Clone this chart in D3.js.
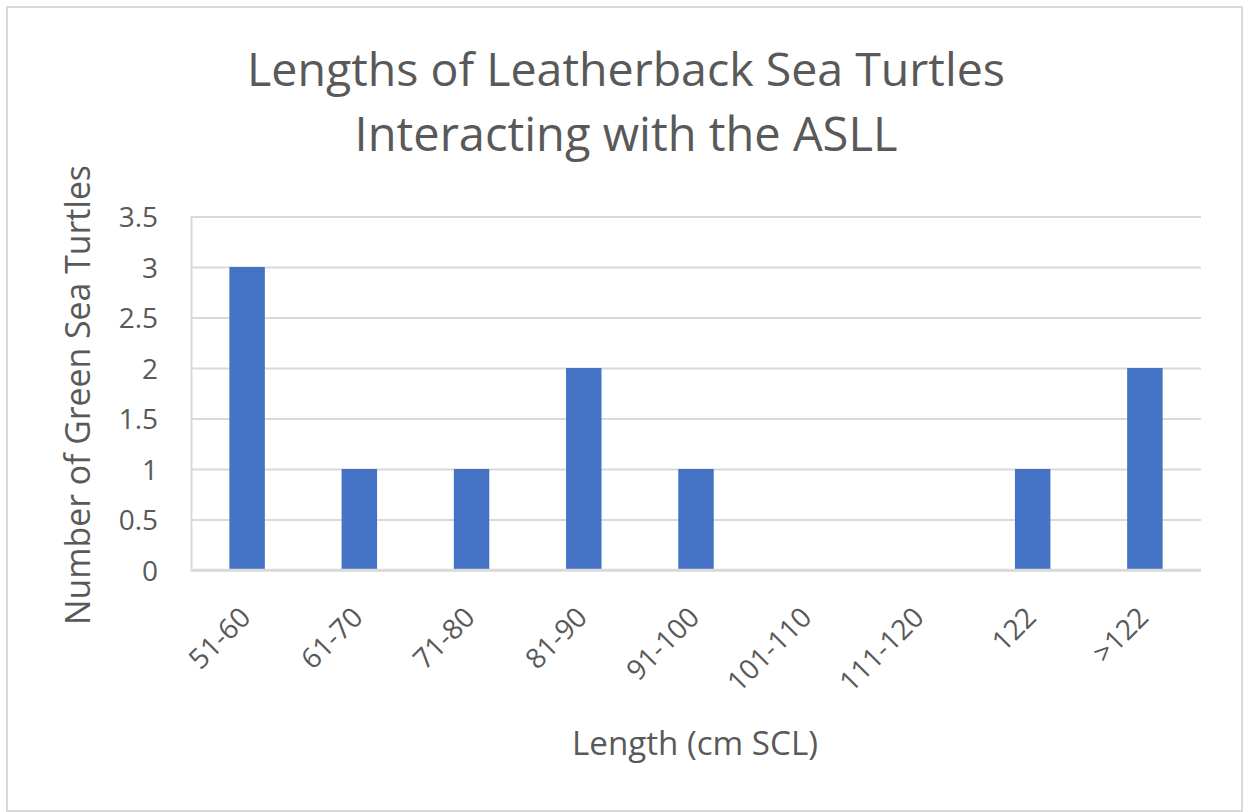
<!DOCTYPE html>
<html>
<head>
<meta charset="utf-8">
<script src="https://cdn.jsdelivr.net/npm/d3@7"></script>
<style>
  body { margin: 0; background: #fff; }
  svg { display: block; }
</style>
</head>
<body>
<svg id="chart" width="1243" height="812"></svg>
<script>
// Length classes (cm SCL) and the number of turtles in each
const categories = ["51-60", "61-70", "71-80", "81-90", "91-100", "101-110", "111-120", "122", ">122"];
const counts = [3, 1, 1, 2, 1, 0, 0, 1, 2];
const yTicks = [0, 0.5, 1, 1.5, 2, 2.5, 3, 3.5];
const titleLines = ["Lengths of Leatherback Sea Turtles", "Interacting with the ASLL"];
const xTitle = "Length (cm SCL)";
const yTitle = "Number of Green Sea Turtles";

const plot = { left: 191, right: 1201, top: 216.5, bottom: 570 };
const textColor = "#595959";
const gridColor = "#d9d9d9";
const barColor = "#4472C4";
const FONT = "'Open Sans', 'Segoe UI', sans-serif";

const svg = d3.select("#chart");

// Scale a text element's font size so its rendered width matches a target
function fitWidth(sel, target) {
  const fs = parseFloat(sel.attr("font-size"));
  const w = sel.node().getComputedTextLength();
  sel.attr("font-size", (fs * target / w).toFixed(2));
}

// Outer chart frame
svg.append("rect")
  .attr("x", 7).attr("y", 7)
  .attr("width", 1235).attr("height", 804)
  .attr("fill", "#fff")
  .attr("stroke", gridColor)
  .attr("stroke-width", 2);

// Bars take ~31.6% of each category slot, centred in it
const x = d3.scaleBand()
  .domain(categories)
  .range([plot.left, plot.right])
  .paddingInner(0.684)
  .paddingOuter(0.342);

const y = d3.scaleLinear()
  .domain([0, 3.5])
  .range([plot.bottom, plot.top]);

// Value axis with horizontal gridlines
const yAxis = d3.axisLeft(y)
  .tickValues(yTicks)
  .tickSize(-(plot.right - plot.left))
  .tickPadding(33)
  .tickFormat(d => String(d));

const gy = svg.append("g")
  .attr("transform", `translate(${plot.left},0)`)
  .call(yAxis);
gy.select(".domain").attr("stroke", gridColor).attr("stroke-width", 2);
gy.selectAll(".tick line").attr("stroke", gridColor).attr("stroke-width", 2);
gy.selectAll(".tick text")
  .attr("fill", textColor)
  .attr("font-family", FONT)
  .attr("font-size", 28)
  .attr("dy", "0.36em");

// Bars
svg.append("g")
  .selectAll("rect")
  .data(categories.map((c, i) => ({ c, v: counts[i] })))
  .join("rect")
  .attr("x", d => x(d.c))
  .attr("width", x.bandwidth())
  .attr("y", d => y(d.v))
  .attr("height", d => y(0) - y(d.v))
  .attr("fill", barColor);

// Category axis baseline
svg.append("line")
  .attr("x1", plot.left).attr("x2", plot.right)
  .attr("y1", y(0)).attr("y2", y(0))
  .attr("stroke", gridColor)
  .attr("stroke-width", 2.5);

// Rotated category labels
const center = d => x(d) + x.bandwidth() / 2;
svg.append("g")
  .selectAll("text")
  .data(categories)
  .join("text")
  .attr("transform", d => `translate(${center(d) - 2},${plot.bottom + 42}) rotate(-45)`)
  .attr("text-anchor", "end")
  .attr("dy", "0.36em")
  .attr("fill", textColor)
  .attr("font-family", FONT)
  .attr("font-size", 28)
  .text(d => d);

// Two-line title
const titleBase = [86, 151];
const titleWidth = [758, 543];
titleLines.forEach((t, i) => {
  const el = svg.append("text")
    .attr("x", 626)
    .attr("y", titleBase[i])
    .attr("text-anchor", "middle")
    .attr("fill", textColor)
    .attr("font-family", FONT)
    .attr("font-size", 42)
    .text(t);
  fitWidth(el, titleWidth[i]);
});

// Axis titles
const xt = svg.append("text")
  .attr("x", 695)
  .attr("y", 755)
  .attr("text-anchor", "middle")
  .attr("fill", textColor)
  .attr("font-family", FONT)
  .attr("font-size", 28)
  .text(xTitle);
fitWidth(xt, 246);

const yt = svg.append("text")
  .attr("transform", "translate(90,395) rotate(-90)")
  .attr("text-anchor", "middle")
  .attr("fill", textColor)
  .attr("font-family", FONT)
  .attr("font-size", 30)
  .text(yTitle);
fitWidth(yt, 460);
</script>
</body>
</html>
